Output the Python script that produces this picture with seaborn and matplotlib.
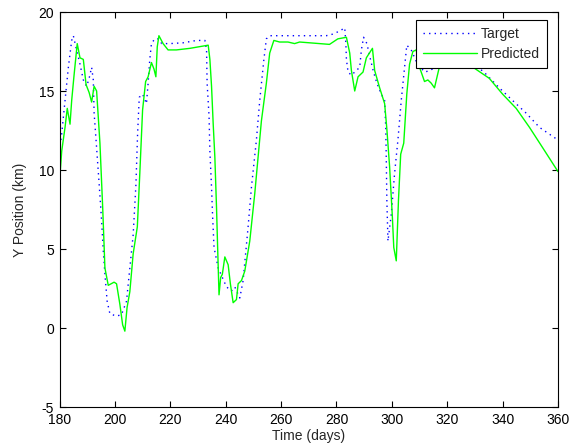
import matplotlib
matplotlib.use("Agg")
import matplotlib.pyplot as plt
import seaborn as sns
import pandas as pd

tgt_day = [180, 180.8, 182, 183.2, 184.4, 185, 185.9, 187.4, 188.6, 189.8, 190.7, 191.6, 192.2, 192.5,
           193.4, 194.4, 195.2, 195.8, 196.4, 197.2, 198.2, 200.6, 202.4, 204.2, 205.4, 206.6, 207.6,
           208.2, 208.8, 210, 211.4, 212, 212.6, 213.2, 214.4, 215.7, 216.9, 219.8, 224.6, 229.5, 232.5,
           233.1, 233.3, 234, 234.3, 234.9, 235.3, 235.8, 237.3, 238.8, 240.3, 242.1, 243.3, 245.1,
           246.3, 248.1, 249.3, 251.1, 252.3, 253.8, 254.7, 255.9, 262, 270, 276.3, 278.7, 281.2, 283,
           283.4, 283.6, 284.2, 285.4, 288.4, 289, 289.8, 291, 292, 293.4, 294.6, 296.2, 297.4, 297.8,
           298, 298.2, 298.6, 299.8, 301, 302.2, 303.4, 304.6, 305.4, 307, 309, 311.8, 314, 316, 318,
           322, 328, 333.8, 338.8, 343.6, 348.5, 353.3, 358.3, 360]
tgt_y = [11.2, 12.3, 14.4, 16.5, 18.2, 18.5, 17.8, 16.7, 15.7, 15.3, 15.8, 16.5, 15.7, 13.6, 11.4, 8.9,
         6.8, 4.9, 3.4, 1.7, 0.9, 0.75, 0.85, 1.7, 3.8, 5.9, 9.1, 12.3, 14.6, 14.8, 14.2, 15.5, 17.0,
         18.0, 18.3, 18.3, 18.0, 18.0, 18.05, 18.2, 18.2, 17.6, 15.5, 13.4, 11.2, 8.9, 7.0, 5.1, 3.8,
         3.2, 2.6, 2.35, 2.6, 1.9, 3.0, 6.4, 8.9, 11.9, 14.4, 17.0, 18.3, 18.5, 18.5, 18.5, 18.5, 18.6,
         18.8, 19.0, 18.0, 17.0, 16.2, 16.0, 16.5, 17.6, 18.4, 18.0, 17.2, 16.2, 15.5, 14.8, 14.4, 12.7,
         10.6, 8.1, 5.5, 7.2, 9.8, 11.9, 14.4, 16.5, 17.9, 17.6, 16.8, 16.2, 16.3, 16.6, 17.5, 17.5,
         17.0, 16.1, 15.2, 14.4, 13.6, 12.7, 12.1, 11.9]

pred_day = [180, 180.8, 182, 182.8, 183.8, 184.4, 185.2, 186.4, 187.4, 188.6, 189.6, 190.7, 191.6, 192.5,
            193.4, 194.6, 195.6, 196.4, 197.6, 199.7, 200.6, 201.8, 202.8, 203.6, 204.4, 205.4, 206.6,
            208.1, 209, 210, 211.1, 212, 213.2, 214.1, 214.8, 215.3, 215.9, 217.4, 219.2, 222.2, 227.1,
            233.7, 234.3, 234.9, 235.5, 236.1, 236.7, 237.1, 237.6, 238.2, 238.8, 239.7, 240.9, 241.7,
            242.7, 243.9, 244.5, 245.7, 246.9, 248.7, 250.5, 251.7, 252.9, 254.7, 255.9, 257.4, 259.5,
            262.5, 264.9, 266.7, 273.9, 277.5, 280.5, 283.6, 284.8, 285.4, 286.6, 287.8, 289.6, 290.8,
            293, 293.8, 295.6, 297.4, 298.2, 299.2, 300.2, 300.7, 301.6, 302.4, 303.2, 304.3, 305.4,
            306.4, 307.6, 308.8, 310, 311.8, 313, 314.2, 315.4, 317, 319, 322, 326, 331, 335.2, 340,
            344.9, 349.7, 354.5, 360]
pred_y = [9.2, 11.2, 12.7, 13.9, 12.9, 14.4, 15.9, 18.0, 17.1, 17.0, 15.4, 14.9, 14.3, 15.3, 15.0, 11.7,
          7.6, 3.8, 2.7, 2.9, 2.8, 1.5, 0.2, -0.2, 1.3, 2.3, 4.7, 6.4, 9.8, 13.8, 15.6, 15.9, 16.8, 16.4,
          15.9, 17.8, 18.5, 18.0, 17.6, 17.6, 17.7, 17.9, 17.0, 15.3, 12.9, 10.8, 7.6, 5.1, 2.1, 3.2, 3.4,
          4.5, 4.0, 2.8, 1.6, 1.8, 2.8, 3.0, 3.6, 5.5, 8.5, 10.8, 13.1, 15.5, 17.4, 18.2, 18.1, 18.1,
          18.0, 18.1, 18.0, 17.95, 18.3, 18.4, 17.4, 16.3, 15.0, 15.9, 16.2, 17.1, 17.7, 16.3, 15.2,
          14.2, 12.6, 10.2, 7.0, 5.1, 4.25, 8.1, 11.0, 11.7, 14.8, 16.7, 17.5, 17.6, 16.5, 15.6, 15.7,
          15.5, 15.2, 16.4, 17.5, 17.3, 16.9, 16.3, 15.8, 14.8, 13.9, 12.7, 11.4, 9.9]

x_ticks = [180, 200, 220, 240, 260, 280, 300, 320, 340, 360]
y_ticks = [-5, 0, 5, 10, 15, 20]

sns.set_style("white")
plt.rcParams['font.family'] = ['Liberation Sans', 'DejaVu Sans']
plt.rcParams['axes.unicode_minus'] = False

fig = plt.figure(figsize=(5.77, 4.48), dpi=100)
ax = fig.add_axes([59.5 / 577, 1 - 407 / 448, (558 - 59.5) / 577, (407 - 12) / 448])

df_t = pd.DataFrame({"day": tgt_day, "y": tgt_y})
df_p = pd.DataFrame({"day": pred_day, "y": pred_y})

sns.lineplot(data=df_t, x="day", y="y", ax=ax, color=(0, 0, 1), lw=1.0,
             linestyle=(0, (1, 3)), estimator=None, sort=False, label="Target")
sns.lineplot(data=df_p, x="day", y="y", ax=ax, color=(0, 1, 0), lw=1.0,
             estimator=None, sort=False, label="Predicted")

ax.set_xlim(180, 360)
ax.set_ylim(-5, 20)
ax.set_xticks(x_ticks)
ax.set_yticks(y_ticks)
ax.set_xlabel("Time (days)", fontsize=10, labelpad=2)
ax.set_ylabel("Y Position (km)", fontsize=10, labelpad=8)
ax.tick_params(direction="in", length=4.5, width=0.8, labelsize=10, top=True, right=True,
               bottom=True, left=True, colors="black", pad=4)
for s in ax.spines.values():
    s.set_color("black")
    s.set_linewidth(0.8)

leg = ax.legend(loc="upper right", bbox_to_anchor=(547 / 577, 1 - 20 / 448),
                bbox_transform=fig.transFigure, fancybox=False, shadow=False,
                framealpha=1, edgecolor="black", fontsize=10, handlelength=3.9,
                borderpad=0.5, labelspacing=0.45, handletextpad=0.3, borderaxespad=0)
leg.get_frame().set_linewidth(0.8)

fig.savefig("out.png", dpi=100)
